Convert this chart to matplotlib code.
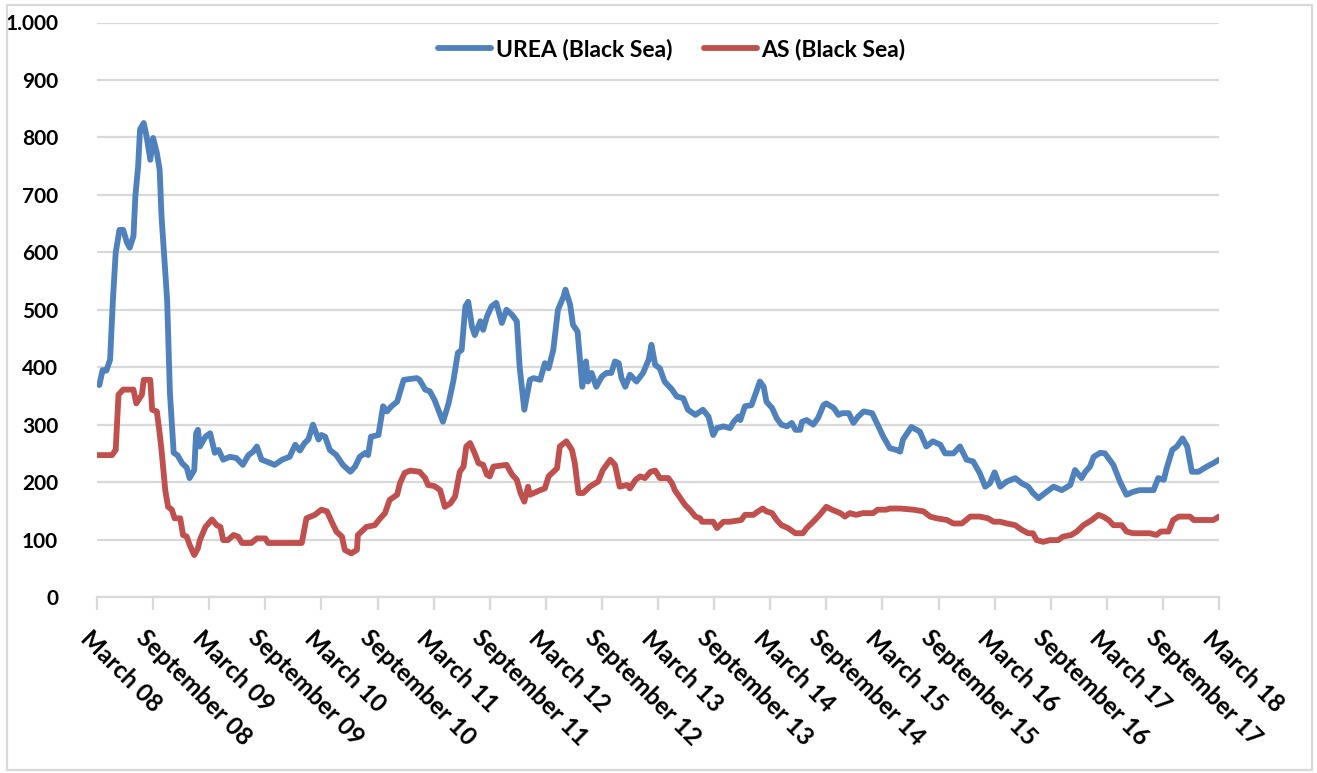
import matplotlib
matplotlib.use("Agg")
import matplotlib.pyplot as plt
from matplotlib.patches import Rectangle
from matplotlib.ticker import FuncFormatter, MultipleLocator
import matplotlib.transforms as mtransforms

# Weekly Black Sea prices (USD/t); x = months since March 2008
urea_months = [0.25, 0.6, 1.0, 1.4, 1.7, 2.0, 2.4, 2.8, 3.2, 3.5, 3.9, 4.1, 4.4, 4.6, 5.0, 5.3,
               5.7, 6.0, 6.4, 6.7, 6.9, 7.5, 7.8, 8.2, 8.6, 9.1, 9.6, 9.9, 10.4, 10.6, 10.8, 11.0,
               11.6, 12.1, 12.6, 13.0, 13.5, 14.2, 14.9, 15.6, 16.2, 16.7, 17.1, 17.6, 18.1, 19.0,
               19.8, 20.6, 21.2, 21.7, 22.2, 22.6, 23.1, 23.7, 24.0, 24.4, 24.9, 25.6, 26.3, 27.1,
               27.6, 28.1, 28.7, 29.0, 29.3, 30.1, 30.6, 31.0, 31.5, 32.1, 32.8, 34.2, 34.5, 35.1,
               35.6, 36.1, 37.0, 37.6, 38.1, 38.6, 39.0, 39.4, 39.7, 40.1, 40.4, 41.0, 41.3, 41.7,
               42.2, 42.7, 43.3, 43.8, 44.4, 44.9, 45.2, 45.7, 46.3, 46.7, 47.4, 47.9, 48.3, 48.8,
               49.3, 49.9, 50.1, 50.6, 50.9, 51.4, 51.9, 52.3, 52.5, 52.9, 53.4, 54.0, 54.5, 55.0,
               55.4, 55.8, 56.1, 56.5, 57.0, 57.7, 58.4, 59.0, 59.3, 59.7, 60.2, 60.7, 61.5, 62.0,
               62.7, 63.2, 64.0, 64.8, 65.4, 65.9, 66.3, 67.0, 67.7, 68.1, 68.6, 68.8, 69.3, 70.0,
               70.6, 70.9, 71.3, 71.6, 72.2, 72.7, 73.2, 73.8, 74.3, 74.7, 75.2, 75.4, 75.9, 76.6,
               77.1, 77.7, 78.0, 78.8, 79.3, 79.7, 80.4, 80.9, 81.4, 82.0, 82.9, 83.4, 84.1, 84.8,
               85.5, 85.9, 86.2, 86.4, 87.1, 88.0, 88.7, 89.4, 90.2, 90.7, 91.6, 92.3, 93.0, 93.7,
               94.4, 95.0, 95.5, 96.0, 96.6, 97.3, 98.2, 98.9, 99.6, 100.1, 100.7, 101.4, 102.3,
               103.2, 104.1, 104.6, 105.3, 105.7, 106.2, 106.6, 107.3, 107.8, 108.2, 108.7, 109.4,
               110.1, 110.8, 111.5, 113.0, 113.5, 114.1, 114.4, 115.0, 115.5, 116.1, 116.6, 117.1,
               117.8, 118.7, 119.4, 120.0]
urea_price = [369, 395, 394, 413, 517, 599, 639, 639, 617, 608, 628, 697, 750, 814, 825, 802,
              761, 799, 773, 744, 663, 517, 355, 251, 247, 233, 225, 207, 221, 285, 291, 262,
              279, 285, 251, 256, 239, 244, 242, 230, 247, 253, 262, 239, 236, 230,
              239, 244, 265, 255, 268, 274, 300, 274, 282, 279, 256, 247, 230, 218,
              227, 244, 251, 247, 279, 282, 332, 323, 332, 340, 378, 381, 378, 361,
              358, 343, 305, 337, 375, 425, 430, 506, 514, 471, 456, 480, 465, 488,
              506, 512, 477, 500, 491, 480, 401, 326, 378, 381, 378, 407, 398, 430,
              500, 523, 535, 509, 474, 462, 366, 410, 375, 390, 366, 384, 390, 390,
              410, 407, 381, 366, 387, 375, 390, 413, 439, 404, 398, 375, 361, 349,
              346, 326, 317, 326, 314, 282, 294, 297, 294, 305, 314, 308, 332, 334,
              361, 375, 366, 340, 329, 311, 300, 297, 303, 291, 291, 305, 308, 300,
              311, 334, 337, 329, 317, 320, 320, 303, 314, 323, 320, 303, 279, 259,
              256, 253, 274, 279, 296, 288, 262, 271, 265, 250, 250, 262, 239, 236,
              216, 192, 198, 217, 192, 201, 207, 198, 192, 181, 172, 181, 192,
              186, 195, 221, 207, 218, 227, 244, 251, 250, 241, 230, 201,
              178, 183, 186, 186, 207, 204, 224, 256, 262, 276, 262, 218,
              218, 227, 233, 239]

as_months = [0.1, 1.6, 2.0, 2.3, 2.8, 3.9, 4.2, 4.8, 5.0, 5.7, 5.9, 6.4, 6.7, 6.9, 7.3, 7.6,
             8.0, 8.3, 8.9, 9.2, 9.6, 9.9, 10.4, 10.8, 11.0, 11.6, 12.3, 12.8, 13.2, 13.5, 14.0,
             14.6, 15.1, 15.5, 16.5, 17.1, 18.0, 18.3, 21.9, 22.4, 23.3, 24.0, 24.6, 25.1, 25.6,
             26.2, 26.5, 27.2, 27.8, 27.9, 28.5, 28.8, 29.7, 30.3, 30.8, 31.3, 32.1, 32.4, 32.9,
             33.5, 34.5, 35.1, 35.4, 36.1, 36.7, 37.2, 37.8, 38.3, 38.8, 39.2, 39.5, 39.9, 40.4,
             40.8, 41.3, 41.7, 42.0, 42.4, 43.8, 44.4, 44.9, 45.3, 45.7, 46.1, 46.3, 47.4, 47.9,
             48.3, 49.2, 49.5, 50.2, 50.8, 51.1, 51.5, 52.0, 52.7, 53.6, 54.1, 54.9, 55.4, 55.9,
             56.7, 57.0, 57.6, 58.1, 58.6, 59.2, 59.7, 60.2, 61.1, 61.5, 61.8, 62.4, 62.9, 63.4,
             64.0, 64.5, 64.7, 65.9, 66.3, 67.0, 67.7, 68.9, 69.3, 70.2, 70.7, 71.2, 71.6, 72.2,
             72.7, 73.2, 73.9, 74.7, 75.5, 75.9, 76.6, 77.3, 78.0, 78.6, 79.5, 80.0, 80.5, 81.2,
             81.9, 83.0, 83.5, 84.4, 84.8, 85.9, 87.3, 88.4, 89.1, 89.8, 90.9, 91.6, 92.5, 93.4,
             94.4, 95.3, 95.9, 96.6, 97.3, 98.2, 98.9, 99.6, 100.1, 100.5, 101.2, 101.9, 102.8,
             103.3, 104.2, 104.8, 105.5, 106.4, 107.1, 107.6, 108.2, 108.7, 109.6, 110.1, 110.8,
             112.6, 113.3, 113.8, 114.6, 115.1, 115.7, 116.9, 117.3, 119.4, 120.0]
as_price = [247, 247, 256, 352, 361, 361, 337, 352, 378, 378, 326, 323, 285, 256, 186, 157,
            152, 137, 137, 108, 105, 91, 73, 85, 99, 122, 135, 125, 122, 99, 99,
            108, 105, 94, 94, 102, 102, 94, 94, 137, 143, 152, 149, 131, 114,
            105, 82, 76, 82, 108, 117, 122, 125, 137, 146, 169, 178, 198, 216,
            220, 218, 207, 195, 193, 186, 157, 163, 175, 218, 227, 262, 268, 250,
            233, 230, 213, 210, 227, 230, 213, 204, 181, 166, 192, 178, 186, 189,
            210, 224, 262, 271, 256, 233, 181, 181, 192, 201, 221, 239, 230, 192,
            195, 189, 204, 210, 207, 218, 220, 207, 207, 198, 186, 172, 160, 152,
            140, 137, 131, 131, 120, 131, 131, 134, 143, 143, 149, 154, 149, 146,
            134, 125, 120, 111, 111, 120, 131, 143, 157, 152, 146, 140, 146, 143,
            146, 146, 152, 152, 154, 154, 152, 149, 140, 137, 134, 128, 128, 140,
            140, 137, 131, 131, 128, 125, 117, 111, 111, 99, 96, 99, 99,
            105, 108, 114, 125, 134, 143, 140, 134, 125, 125, 114, 111,
            111, 108, 114, 114, 134, 140, 140, 134, 134, 140]

tick_labels = ["March 08", "September 08", "March 09", "September 09", "March 10",
               "September 10", "March 11", "September 11", "March 12", "September 12",
               "March 13", "September 13", "March 14", "September 14", "March 15",
               "September 15", "March 16", "September 16", "March 17", "September 17",
               "March 18"]
series_names = ["UREA (Black Sea)", "AS (Black Sea)"]
series_colors = ["#4F81BD", "#C0504D"]

plt.rcParams["font.family"] = ["Lato", "DejaVu Sans"]
plt.rcParams["font.weight"] = "bold"

W, H = 1317, 773
fig = plt.figure(figsize=(W / 100, H / 100), dpi=100)
fig.patch.set_facecolor("white")

# light outer frame
fig.add_artist(Rectangle((7 / W, 1 - 770 / H), (1312 - 7) / W, (770 - 5) / H,
                         transform=fig.transFigure, fill=False,
                         edgecolor="#D9D9D9", linewidth=1.6))

left, right = 97 / W, 1219 / W
bottom, top = 1 - 597 / H, 1 - 22.5 / H
ax = fig.add_axes([left, bottom, right - left, top - bottom])

grid_color = "#D9D9D9"
line_width = 4.2
ax.plot(urea_months, urea_price, color=series_colors[0], lw=line_width,
        solid_joinstyle="round", solid_capstyle="round", label=series_names[0], zorder=3)
ax.plot(as_months, as_price, color=series_colors[1], lw=line_width,
        solid_joinstyle="round", solid_capstyle="round", label=series_names[1], zorder=3)

ax.set_xlim(0, 120)
ax.set_ylim(0, 1000)
ax.yaxis.set_major_locator(MultipleLocator(100))
ax.yaxis.set_major_formatter(FuncFormatter(lambda v, p: f"{int(v):,}".replace(",", ".")))
ax.grid(axis="y", color=grid_color, lw=1.6, zorder=0)
ax.set_axisbelow(True)

for s in ["left", "right", "top"]:
    ax.spines[s].set_visible(False)
ax.spines["bottom"].set_color(grid_color)
ax.spines["bottom"].set_linewidth(1.6)

ax.set_xticks(range(0, 121, 6))
ax.set_xticklabels(tick_labels)
ax.tick_params(axis="x", direction="out", length=9, width=1.6, color=grid_color,
               pad=12, labelsize=17.5)
ax.tick_params(axis="y", length=0, pad=28, labelsize=15)

shift = mtransforms.ScaledTranslation(-5 / 100, 0, fig.dpi_scale_trans)
for lbl in ax.get_xticklabels():
    lbl.set_rotation(-45)
    lbl.set_rotation_mode("anchor")
    lbl.set_ha("left")
    lbl.set_va("top")
    lbl.set_fontweight("bold")
    lbl.set_transform(lbl.get_transform() + shift)
for lbl in ax.get_yticklabels():
    lbl.set_fontweight("bold")

fig.legend(loc="center", bbox_to_anchor=(672 / W, 1 - 49 / H), ncol=2, frameon=False,
           handlelength=2.3, handletextpad=0.2, columnspacing=1.4,
           prop={"weight": "bold", "size": 16.5})

fig.savefig("out.png", dpi=100, facecolor="white")
